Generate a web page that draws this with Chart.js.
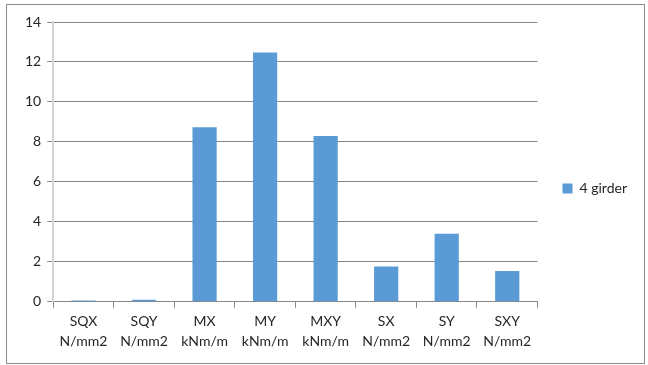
<!DOCTYPE html>
<html>
<head>
<meta charset="utf-8">
<script src="https://cdn.jsdelivr.net/npm/chart.js@4"></script>
<style>
  html, body { margin: 0; padding: 0; background: #fff; }
  #box {
    position: absolute; left: 6px; top: 4px;
    width: 637px; height: 358px;
    border: 1px solid #8c8c8c;
  }
</style>
</head>
<body>
<div id="box"><canvas id="myChart" width="637" height="358"></canvas></div>
<script>
var categories = [
  ["SQX", "N/mm2"], ["SQY", "N/mm2"], ["MX", "kNm/m"], ["MY", "kNm/m"],
  ["MXY", "kNm/m"], ["SX", "N/mm2"], ["SY", "N/mm2"], ["SXY", "N/mm2"]
];
var girder4 = [0.07, 0.1, 8.73, 12.48, 8.3, 1.77, 3.41, 1.54];
var seriesName = "4 girder";

var ctx = document.getElementById("myChart").getContext("2d");
var fontFamily = "Lato, 'Open Sans', sans-serif";

var chart = new Chart(ctx, {
  type: "bar",
  data: {
    labels: categories,
    datasets: [
      {
        label: seriesName,
        data: girder4,
        backgroundColor: "#5b9bd5",
        borderWidth: 0,
        categoryPercentage: 1,
        barPercentage: 0.4
      }
    ]
  },
  options: {
    responsive: false,
    animation: false,
    layout: { padding: { left: 12, right: 7, top: 17, bottom: 8 } },
    plugins: {
      legend: {
        position: "right",
        labels: {
          boxWidth: 10,
          boxHeight: 10,
          padding: 25,
          color: "#262626",
          font: { family: fontFamily, size: 14 }
        }
      },
      tooltip: { enabled: false }
    },
    scales: {
      x: {
        grid: {
          offset: true,
          drawOnChartArea: false,
          drawTicks: true,
          tickLength: 6,
          color: "#878787"
        },
        border: { color: "#878787" },
        ticks: {
          color: "#262626",
          maxRotation: 0,
          autoSkip: false,
          padding: 4,
          font: { family: fontFamily, size: 14, lineHeight: 1.4 }
        }
      },
      y: {
        min: 0,
        max: 14,
        ticks: {
          stepSize: 2,
          color: "#262626",
          padding: 6,
          font: { family: fontFamily, size: 14 }
        },
        grid: {
          color: "#878787",
          tickLength: 6,
          tickColor: "#878787"
        },
        border: { color: "#d4d4d4", width: 2 }
      }
    }
  }
});
</script>
</body>
</html>
